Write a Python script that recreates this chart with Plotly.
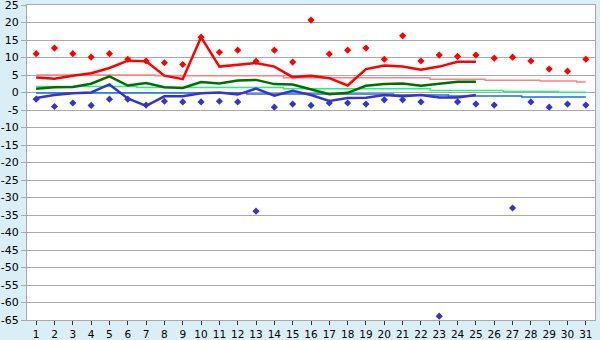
import plotly.graph_objects as go

days = list(range(1, 32))
day_labels = [str(d) for d in days]

# daily extremes (dots)
max_temp = [11.1, 12.7, 11.1, 10.1, 11.1, 9.5, 9.0, 8.5, 8.0, 15.8, 11.5, 12.1, 8.9, 12.1, 8.7,
            20.7, 11.0, 12.1, 12.7, 9.5, 16.2, 9.0, 10.7, 10.3, 10.7, 9.8, 10.1, 9.0, 6.7, 6.1, 9.5]
min_temp = [-1.9, -4.0, -3.0, -3.7, -1.9, -1.9, -3.6, -2.5, -2.7, -2.7, -2.5, -2.7, -33.9, -4.2, -3.3,
            -3.7, -3.0, -3.0, -3.3, -2.1, -2.1, -2.7, -63.9, -2.7, -3.3, -3.6, -33.0, -2.7, -4.2, -3.3, -3.6]

# daily means (thick lines, days 1..25)
line_days = list(range(1, 26))
mean_max = [4.3, 3.9, 4.8, 5.5, 7.0, 9.1, 8.9, 4.8, 3.8, 15.8, 7.4, 7.9, 8.4, 7.4, 4.4,
            4.8, 4.1, 2.0, 6.7, 7.7, 7.4, 6.5, 7.4, 8.8, 8.8]
mean_avg = [1.1, 1.5, 1.6, 2.5, 4.6, 2.0, 2.7, 1.5, 1.3, 3.0, 2.6, 3.4, 3.6, 2.4, 2.3,
            1.0, -0.5, -0.1, 1.9, 2.4, 2.6, 1.9, 2.5, 3.1, 3.1]
mean_min = [-1.6, -0.7, -0.2, 0.0, 2.3, -1.7, -3.8, -1.1, -1.1, -0.2, 0.0, -0.6, 1.1, -0.9, 0.5,
            -0.7, -2.4, -1.6, -1.5, -0.7, -1.1, -0.7, -1.4, -1.4, -0.7]

# normals (thin step lines)
norm_max = [5.0]*7 + [4.8]*7 + [4.2]*8 + [3.8]*3 + [3.5]*3 + [3.3]*2 + [3.0]
norm_avg = [1.7]*6 + [1.45]*8 + [1.1]*8 + [0.6]*4 + [0.3]*3 + [0.1]*2
norm_min = [-0.15]*12 + [-0.4]*8 + [-0.7]*3 + [-1.0]*4 + [-1.3]*4

y_ticks = list(range(-65, 30, 5))
y_labels = [str(v) for v in y_ticks]

fig = go.Figure()

fig.add_trace(go.Scatter(x=days, y=norm_max, mode="lines", line=dict(color="#FF8080", width=1.5, shape="hvh")))
fig.add_trace(go.Scatter(x=days, y=norm_avg, mode="lines", line=dict(color="#22F080", width=1.5, shape="hvh")))
fig.add_trace(go.Scatter(x=days, y=norm_min, mode="lines", line=dict(color="#1A6FE0", width=1.5, shape="hvh")))

fig.add_trace(go.Scatter(x=line_days, y=mean_max, mode="lines", line=dict(color="#FF0000", width=2.5)))
fig.add_trace(go.Scatter(x=line_days, y=mean_avg, mode="lines", line=dict(color="#006E00", width=2.5)))
fig.add_trace(go.Scatter(x=line_days, y=mean_min, mode="lines", line=dict(color="#3535CC", width=2.5)))

fig.add_trace(go.Scatter(x=days, y=max_temp, mode="markers",
                         marker=dict(symbol="diamond", size=5.5, color="#FF0000")))
fig.add_trace(go.Scatter(x=days, y=min_temp, mode="markers",
                         marker=dict(symbol="diamond", size=5.5, color="#3535CC")))

fig.update_layout(
    width=600, height=340,
    margin=dict(l=27, r=5, t=5, b=20),
    paper_bgcolor="#DAEEF5",
    plot_bgcolor="#FFFFFF",
    showlegend=False,
    font=dict(family="DejaVu Sans", size=11, color="#000000"),
)
fig.update_xaxes(
    range=[0.5, 31.5], tickvals=days, ticktext=day_labels,
    showgrid=False, zeroline=False, automargin=False,
    showline=True, linecolor="#A8A8A8", linewidth=1, mirror=True,
    ticks="outside", ticklen=4, tickcolor="#333333",
    ticklabelstandoff=0, tickfont=dict(size=10.5),
)
fig.update_yaxes(
    range=[-65, 25], tickvals=y_ticks, ticktext=y_labels,
    showgrid=True, gridcolor="#AAAAAA", gridwidth=1, zeroline=False, automargin=False,
    showline=True, linecolor="#A8A8A8", linewidth=1, mirror=True,
    ticks="outside", ticklen=5, tickcolor="#AAAAAA",
    ticklabeloverflow="allow", ticklabelstandoff=0,
)

fig.write_html("out.html")
